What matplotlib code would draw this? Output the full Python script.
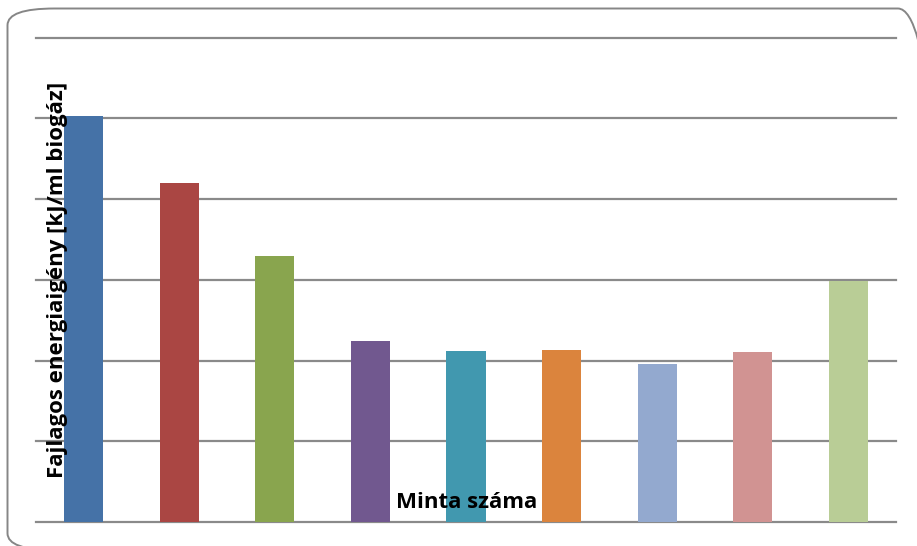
import matplotlib
matplotlib.use("Agg")
import matplotlib.pyplot as plt
from matplotlib.patches import FancyBboxPatch

# Specific energy demand per sample
samples = ["1", "2", "3", "4", "5", "6", "7", "8", "9"]
values = [5.03, 4.20, 3.30, 2.24, 2.12, 2.13, 1.96, 2.11, 2.98]
colors = ["#4572A7", "#AA4643", "#89A54E", "#71588F", "#4198AF",
          "#DB843D", "#93A9CF", "#D19392", "#B9CD96"]
y_max = 6
y_step = 1

W, H = 917, 546
fig = plt.figure(figsize=(W / 100, H / 100), dpi=100)
fig.patch.set_facecolor("white")

# Rounded chart frame; the right-hand side runs off the canvas
fx0, fy0, fx1, fy1 = 7.5, 8.5, 945, 550
rad = 28
frame = FancyBboxPatch((fx0 / W, 1 - fy1 / H), (fx1 - fx0) / W, (fy1 - fy0) / H,
                       boxstyle=f"round,pad=0,rounding_size={rad / H}",
                       transform=fig.transFigure, facecolor="none",
                       edgecolor="#868686", linewidth=1.4, zorder=-1,
                       mutation_aspect=H / W)
fig.patches.append(frame)

left, right = 36 / W, 896 / W
bottom, top = 1 - 522 / H, 1 - 37.5 / H
ax = fig.add_axes([left, bottom, right - left, top - bottom])
ax.set_facecolor("none")

x = range(len(samples))
ax.bar(x, values, width=0.41, color=colors, zorder=3)
ax.set_xlim(-0.5, len(samples) - 0.5)
ax.set_ylim(0, y_max)

for k in range(0, y_max + 1, y_step):
    ax.axhline(k, color="#8a8a8a", linewidth=1.6, zorder=1, clip_on=False)

for s in ax.spines.values():
    s.set_visible(False)
ax.set_xticks([])
ax.set_yticks([])

font = "Open Sans"
fig.text(58 / W, 1 - 280 / H, "Fajlagos energiaigény [kJ/ml biogáz]",
         rotation=90, ha="center", va="center", fontsize=16,
         fontweight="bold", family=font, zorder=5)
fig.text(467 / W, 1 - 503 / H, "Minta száma", ha="center", va="center",
         fontsize=16, fontweight="bold", family=font, zorder=5)

fig.savefig("out.png", dpi=100)
